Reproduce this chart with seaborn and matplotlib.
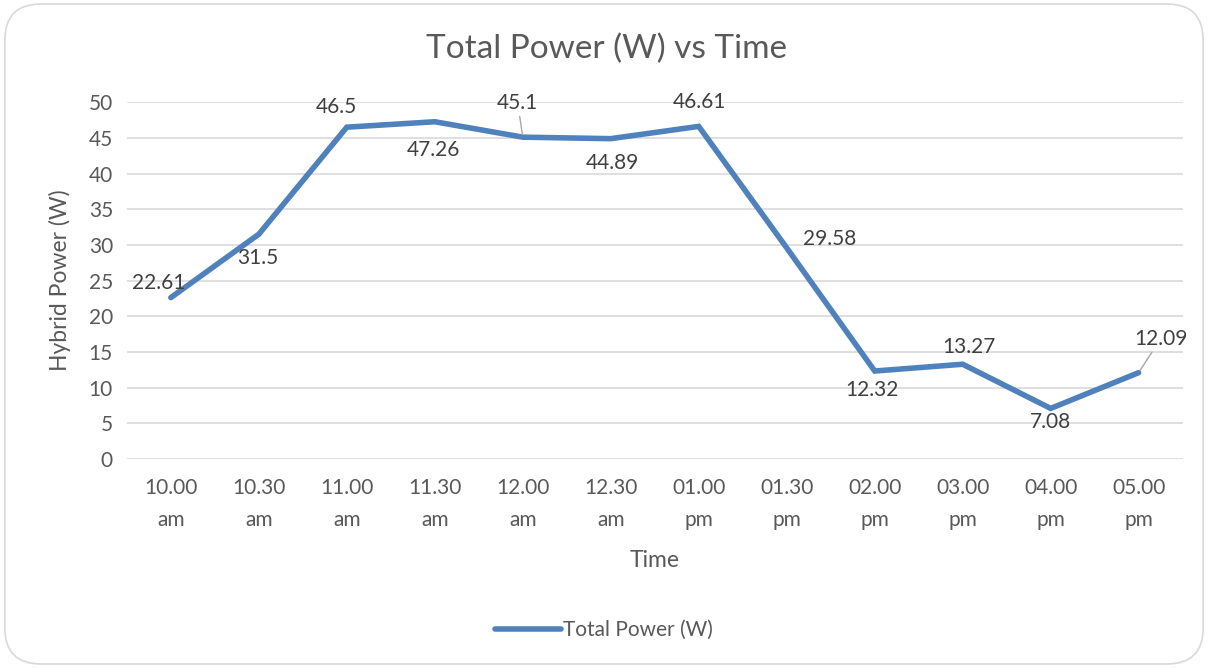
import matplotlib
matplotlib.use("Agg")
import matplotlib.pyplot as plt
from matplotlib.patches import FancyBboxPatch
import seaborn as sns
import pandas as pd

# data
times = ["10.00\nam", "10.30\nam", "11.00\nam", "11.30\nam", "12.00\nam", "12.30\nam",
         "01.00\npm", "01.30\npm", "02.00\npm", "03.00\npm", "04.00\npm", "05.00\npm"]
power = [22.61, 31.5, 46.5, 47.26, 45.1, 44.89, 46.61, 29.58, 12.32, 13.27, 7.08, 12.09]
labels = ["22.61", "31.5", "46.5", "47.26", "45.1", "44.89", "46.61", "29.58", "12.32", "13.27", "7.08", "12.09"]

# label offsets in pixels (dx, dy) and whether a leader line is drawn
offsets = [(-12, 15), (-1, -24), (-10, 20), (-1, -28), (-5, 34), (2, -24),
           (1, 24), (43, 9), (-3, -19), (6, 17), (0, -14), (22, 34)]
leaders = [False, False, False, False, True, False, False, False, False, False, False, True]

sns.set_theme(style="white")
plt.rcParams["font.family"] = ["Lato", "DejaVu Sans"]

BLUE = "#4f81bd"
GREY = "#595959"

df = pd.DataFrame({"pos": range(len(times)), "power": power})

fig = plt.figure(figsize=(12.08, 6.68), dpi=100)
ax = fig.add_axes([0.105, 0.313, 0.874, 0.534])

sns.lineplot(data=df, x="pos", y="power", color=BLUE, linewidth=4, ax=ax,
             label="Total Power (W)", legend=False, solid_joinstyle="miter")

for i, (v, lab) in enumerate(zip(power, labels)):
    dx, dy = offsets[i]
    arrow = dict(arrowstyle="-", color="#a6a6a6", lw=1, shrinkA=0, shrinkB=2) if leaders[i] else None
    ax.annotate(lab, (i, v), xytext=(dx, dy), textcoords="offset pixels",
                ha="center", va="center", fontsize=15, color="#404040",
                arrowprops=arrow)

ax.set_xlim(-0.5, len(times) - 0.5)
ax.set_ylim(0, 50)
ax.set_yticks(range(0, 51, 5))
ax.set_xticks(range(len(times)))
ax.set_xticklabels(times, linespacing=1.75)
ax.tick_params(axis="both", length=0, labelsize=15, labelcolor=GREY)
ax.tick_params(axis="x", pad=14)
ax.tick_params(axis="y", pad=10)
ax.grid(axis="y", color="#d9d9d9", linewidth=1.2)
ax.set_axisbelow(True)
for s in ax.spines.values():
    s.set_visible(False)

ax.set_xlabel("Time", fontsize=16.5, color=GREY, labelpad=14)
ax.set_ylabel("Hybrid Power (W)", fontsize=16.5, color=GREY, labelpad=13)
fig.text(0.502, 0.927, "Total Power (W) vs Time", ha="center", va="center",
         fontsize=24, color=GREY)

leg = fig.legend(loc="center", bbox_to_anchor=(0.5, 0.057), frameon=False,
                 fontsize=15, handlelength=3.2, handletextpad=0.1)
for t in leg.get_texts():
    t.set_color(GREY)

border = FancyBboxPatch((0.004, 0.006), 0.992, 0.988, boxstyle="round,pad=0,rounding_size=0.03",
                        transform=fig.transFigure, fill=False, edgecolor="#d9d9d9", linewidth=1.2,
                        mutation_aspect=1.8)
fig.patches.append(border)

fig.savefig("out.png", dpi=100, facecolor="white")
